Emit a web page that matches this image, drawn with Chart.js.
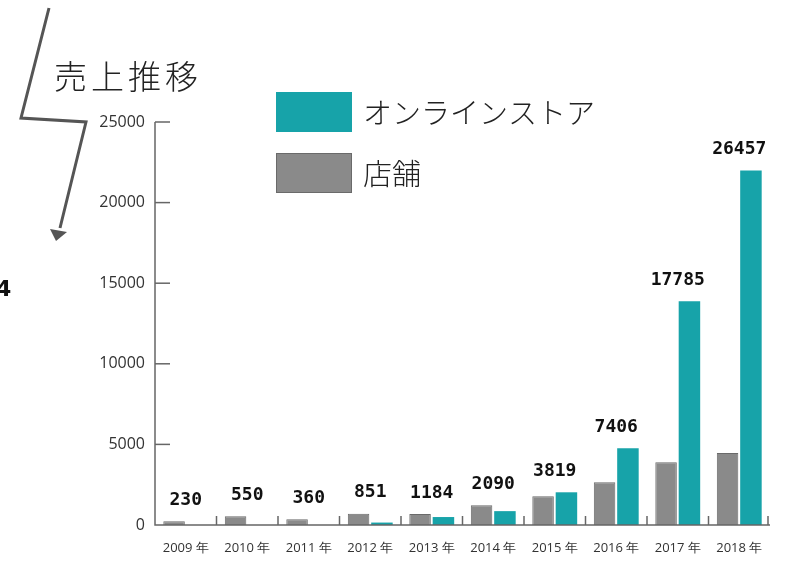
<!DOCTYPE html>
<html>
<head>
<meta charset="utf-8">
<script src="https://cdn.jsdelivr.net/npm/chart.js@4.4.0/dist/chart.umd.min.js"></script>
<style>
  html, body { margin: 0; padding: 0; background: #fff; }
  #wrap { width: 800px; height: 571px; position: relative; }
</style>
</head>
<body>
<div id="wrap"><canvas id="chart" width="800" height="571"></canvas></div>
<script>
// data
const years = ['2009 年', '2010 年', '2011 年', '2012 年', '2013 年', '2014 年', '2015 年', '2016 年', '2017 年', '2018 年'];
const storeSales = [230, 550, 360, 700, 690, 1230, 1790, 2650, 3900, 4467];
const onlineSales = [0, 0, 0, 151, 494, 860, 2029, 4756, 13885, 21990];
const yTicks = [0, 5000, 10000, 15000, 20000, 25000];

const TEAL = '#17a3a9';
const GRAY = '#8a8a8a';
const AXIS = '#666';

const decorPlugin = {
    id: 'decor',
    afterDraw(chart) {
        const ctx = chart.ctx;
        const x = chart.scales.x;
        const y = chart.scales.y;
        const area = chart.chartArea;

        ctx.save();

        // axis lines
        ctx.strokeStyle = AXIS;
        ctx.lineWidth = 1.5;
        ctx.beginPath();
        ctx.moveTo(area.left, y.getPixelForValue(25000));
        ctx.lineTo(area.left, area.bottom);
        ctx.lineTo(area.right, area.bottom);
        ctx.stroke();

        // y ticks pointing inward
        y.ticks.forEach(t => {
            if (t.value === 0) return;
            const py = y.getPixelForValue(t.value);
            ctx.beginPath();
            ctx.moveTo(area.left, py);
            ctx.lineTo(area.left + 15, py);
            ctx.stroke();
        });

        // x ticks at category boundaries
        for (let i = 1; i <= years.length; i++) {
            let px;
            if (i === years.length) px = area.right - 2;
            else px = (x.getPixelForValue(i - 1) + x.getPixelForValue(i)) / 2;
            ctx.beginPath();
            ctx.moveTo(px, area.bottom);
            ctx.lineTo(px, area.bottom - 9);
            ctx.stroke();
        }

        // total labels
        ctx.fillStyle = '#111';
        ctx.font = 'bold 18px "DejaVu Sans Mono"';
        ctx.textAlign = 'center';
        ctx.textBaseline = 'bottom';
        years.forEach((yr, i) => {
            const total = storeSales[i] + onlineSales[i];
            const top = y.getPixelForValue(Math.max(storeSales[i], onlineSales[i]));
            ctx.fillText(String(total), x.getPixelForValue(i), top - 12);
        });

        // title
        ctx.fillStyle = '#222';
        ctx.font = '300 33px "Noto Sans CJK JP"';
        ctx.textAlign = 'left';
        ctx.textBaseline = 'middle';
        ctx.letterSpacing = '4px';
        ctx.fillText('売上推移', 54, 76);
        ctx.letterSpacing = '0px';

        // zigzag arrow
        ctx.strokeStyle = '#555';
        ctx.lineWidth = 3;
        ctx.lineJoin = 'miter';
        ctx.beginPath();
        ctx.moveTo(49, 8);
        ctx.lineTo(21, 118);
        ctx.lineTo(86, 122);
        ctx.lineTo(60, 228);
        ctx.stroke();
        ctx.fillStyle = '#555';
        ctx.beginPath();
        ctx.moveTo(56, 241);
        ctx.lineTo(50, 229);
        ctx.lineTo(67, 232);
        ctx.closePath();
        ctx.fill();

        // cut-off character at left edge
        ctx.fillStyle = '#111';
        ctx.font = 'bold 22px "DejaVu Sans"';
        ctx.textAlign = 'left';
        ctx.textBaseline = 'middle';
        ctx.fillText('4', -4, 290);

        // legend
        const items = [chart.data.datasets[1], chart.data.datasets[0]];
        items.forEach((ds, i) => {
            const top = 92 + i * 61;
            ctx.fillStyle = ds.backgroundColor;
            ctx.fillRect(276, top, 76, 40);
            if (ds.borderWidth) {
                ctx.strokeStyle = ds.borderColor;
                ctx.lineWidth = 1;
                ctx.strokeRect(276.5, top + 0.5, 75, 39);
            }
            ctx.fillStyle = '#222';
            ctx.font = '300 29px "Noto Sans CJK JP"';
            ctx.fillText(ds.label, 363, top + 21);
        });

        ctx.restore();
    }
};

const chart = new Chart(document.getElementById('chart').getContext('2d'), {
    type: 'bar',
    data: {
        labels: years,
        datasets: [{
            label: '店舗',
            data: storeSales,
            backgroundColor: GRAY,
            borderColor: '#6a6a6a',
            borderWidth: 1,
            categoryPercentage: 0.76,
            barPercentage: 0.92
        }, {
            label: 'オンラインストア',
            data: onlineSales,
            backgroundColor: TEAL,
            borderWidth: 0,
            categoryPercentage: 0.76,
            barPercentage: 0.92
        }]
    },
    options: {
        responsive: false,
        animation: false,
        layout: { padding: { top: 122, right: 30, left: 0, bottom: 0 } },
        plugins: {
            legend: { display: false },
            tooltip: { enabled: false }
        },
        scales: {
            x: {
                grid: { display: false, drawTicks: false },
                border: { display: false },
                ticks: {
                    color: '#333',
                    font: { family: 'Open Sans', size: 13 },
                    padding: 15,
                    maxRotation: 0
                },
                afterFit(scale) { scale.height = 46; }
            },
            y: {
                min: 0,
                max: 25000,
                grid: { display: false, drawTicks: false },
                border: { display: false },
                afterBuildTicks(scale) { scale.ticks = yTicks.map(v => ({ value: v })); },
                ticks: {
                    color: '#333',
                    font: { family: 'Open Sans', size: 16 },
                    padding: 10,
                    callback: v => String(v)
                },
                afterFit(scale) { scale.width = 155; }
            }
        }
    },
    plugins: [decorPlugin]
});
</script>
</body>
</html>
